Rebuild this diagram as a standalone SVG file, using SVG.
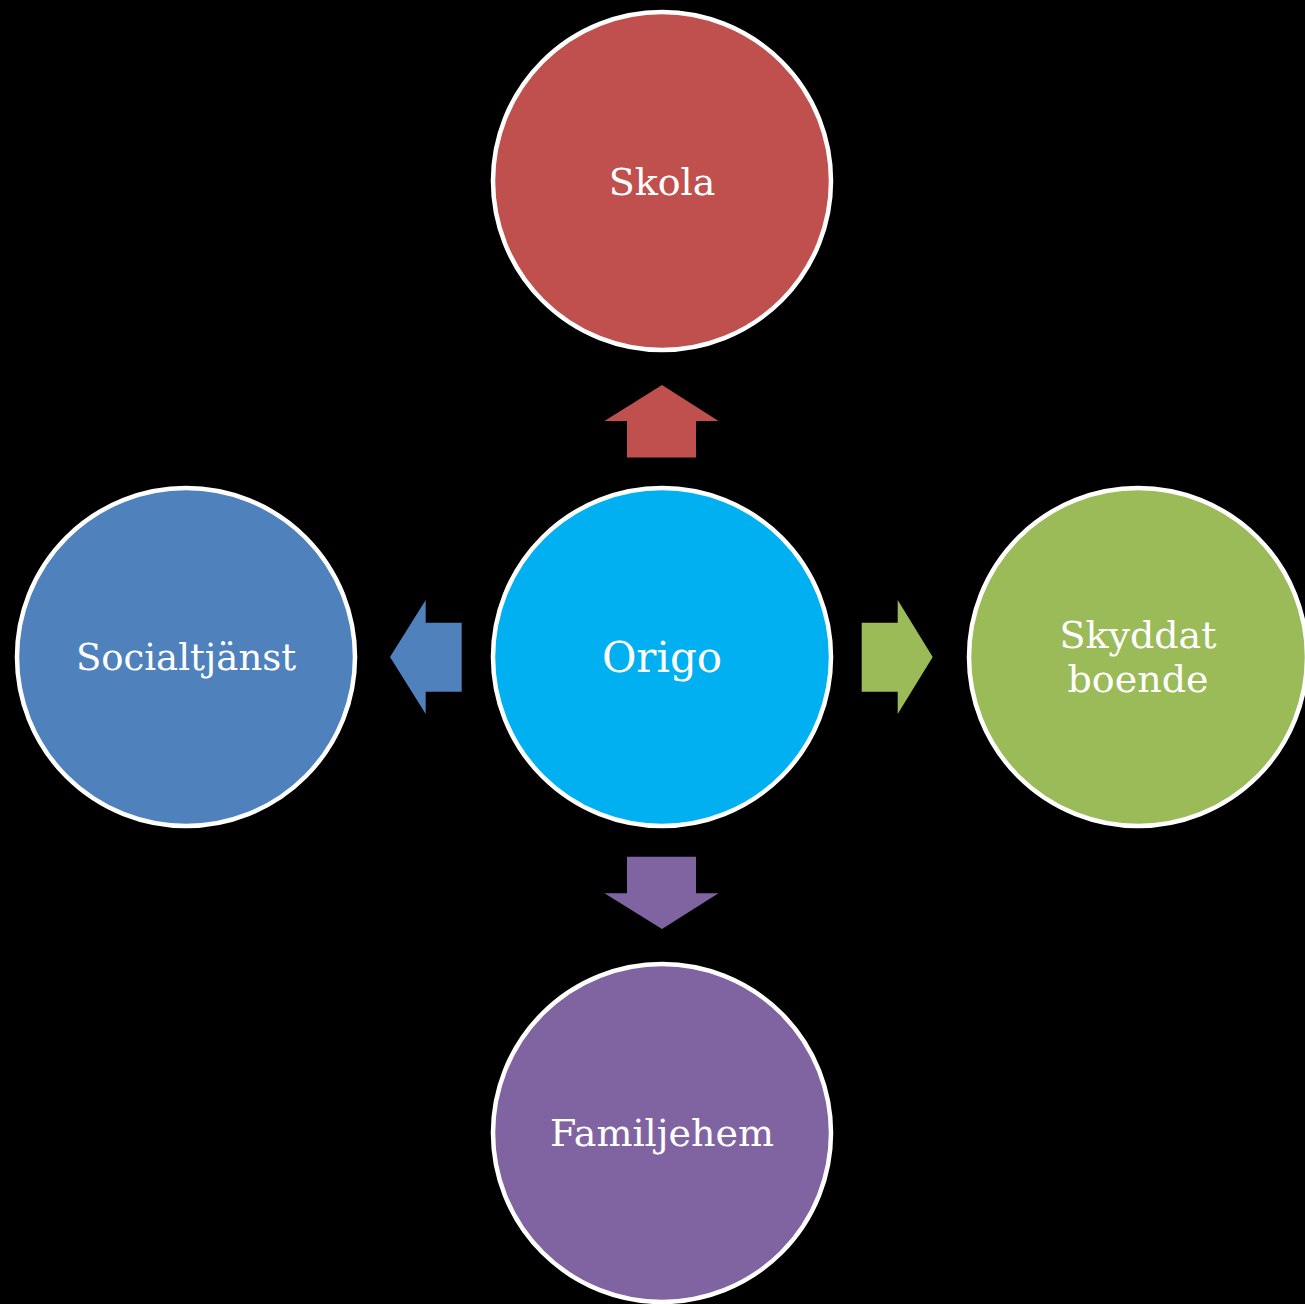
<svg xmlns="http://www.w3.org/2000/svg" width="1305" height="1304" viewBox="0 0 1305 1304">
<style>
.c{stroke:#fff;stroke-width:4.5}
.t{font-family:"DejaVu Serif","Liberation Serif",serif;fill:#fff;text-anchor:middle;font-size:38px}
</style>
<rect width="1305" height="1304" fill="#000"/>
<g id="connectors">
<polygon fill="#C0504D" points="662,385 718.5,421 696,421 696,457.5 627,457.5 627,421 604.5,421"/>
<polygon fill="#4F81BD" points="390,657 425.7,600 425.7,622.7 461.7,622.7 461.7,691.7 425.7,691.7 425.7,714"/>
<polygon fill="#9BBB59" points="932.7,657 897.7,600 897.7,622.7 861.7,622.7 861.7,691.7 897.7,691.7 897.7,714"/>
<polygon fill="#8064A2" points="662,929 718.5,893.3 696,893.3 696,856.7 627,856.7 627,893.3 604.5,893.3"/>
</g>
<g id="origo"><circle class="c" cx="662" cy="657" r="169" fill="#00B0F0"/><text class="t" x="662" y="672" style="font-size:42px">Origo</text></g>
<g id="skola"><circle class="c" cx="662" cy="181" r="169" fill="#C0504D"/><text class="t" x="662" y="195">Skola</text></g>
<g id="socialtjanst"><circle class="c" cx="186" cy="657" r="169" fill="#4F81BD"/><text class="t" x="186" y="670" style="font-size:37px">Socialtjänst</text></g>
<g id="skyddat"><circle class="c" cx="1138" cy="657" r="169" fill="#9BBB59"/><text class="t" x="1138" y="648">Skyddat</text><text class="t" x="1138" y="692">boende</text></g>
<g id="familjehem"><circle class="c" cx="662" cy="1133" r="169" fill="#8064A2"/><text class="t" x="662" y="1146">Familjehem</text></g>
</svg>
